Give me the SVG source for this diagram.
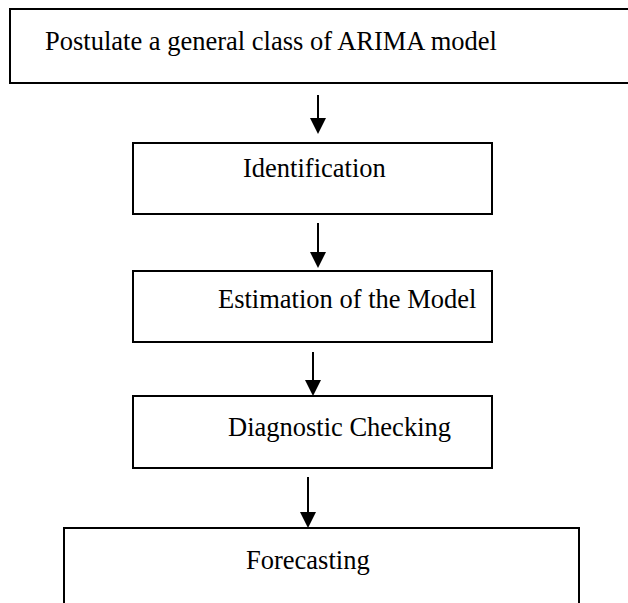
<svg xmlns="http://www.w3.org/2000/svg" width="628" height="603" viewBox="0 0 628 603">
<style>
.box{fill:#fff;stroke:#000;stroke-width:2}
.t{font-family:"Liberation Serif","Times New Roman",serif;font-size:26.5px;fill:#000}
.c{stroke:#000;stroke-width:2;fill:none}
</style>
<rect width="628" height="603" fill="#fff"/>
<g id="n1"><rect class="box" x="10" y="9" width="640" height="74"/><text class="t" x="45" y="50">Postulate a general class of ARIMA model</text></g>
<g id="n2"><rect class="box" x="133" y="143" width="359" height="71"/><text class="t" x="243" y="177">Identification</text></g>
<g id="n3"><rect class="box" x="133" y="271" width="359" height="71"/><text class="t" x="218" y="308">Estimation of the Model</text></g>
<g id="n4"><rect class="box" x="133" y="396" width="359" height="72"/><text class="t" x="228" y="436">Diagnostic Checking</text></g>
<g id="n5"><path class="box" d="M64,603 V528 H579 V603"/><text class="t" x="246" y="569">Forecasting</text></g>
<g id="connectors">
<line class="c" x1="318" y1="95" x2="318" y2="118"/><path d="M310,118 L326,118 L318,134 Z"/>
<line class="c" x1="318" y1="223" x2="318" y2="252"/><path d="M310,252 L326,252 L318,268 Z"/>
<line class="c" x1="313" y1="352" x2="313" y2="380"/><path d="M305,380 L321,380 L313,396 Z"/>
<line class="c" x1="308" y1="477" x2="308" y2="512"/><path d="M300,512 L316,512 L308,528 Z"/>
</g>
</svg>
